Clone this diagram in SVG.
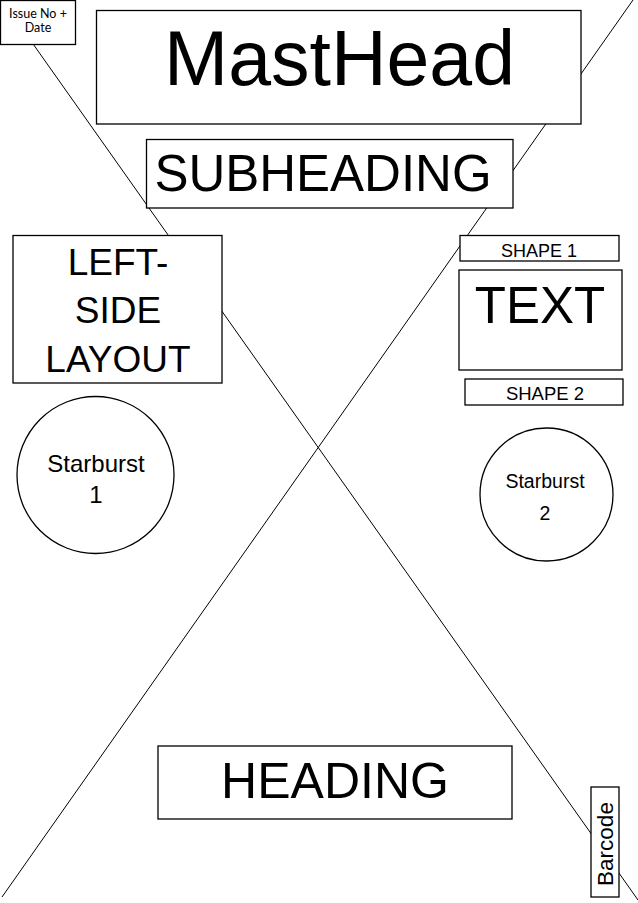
<svg xmlns="http://www.w3.org/2000/svg" width="638" height="903" viewBox="0 0 638 903">
<style>
.box{fill:#fff;stroke:#000;stroke-width:1.3}
.ln{stroke:#000;stroke-width:1;fill:none}
.t{font-family:"Liberation Sans",Arial,sans-serif;fill:#000;text-anchor:middle}
.c{font-family:Lato,"Open Sans",sans-serif;fill:#000;text-anchor:middle;font-size:12.5px}
</style>
<rect width="638" height="903" fill="#fff"/>
<g id="connectors">
<line class="ln" x1="2" y1="0" x2="638" y2="900"/>
<line class="ln" x1="633" y1="0" x2="2" y2="897"/>
</g>
<g id="issue">
<rect class="box" x="0.5" y="0.5" width="75" height="44"/>
<text class="c" x="38" y="18">Issue No +</text>
<text class="c" x="38" y="32">Date</text>
</g>
<g id="masthead">
<rect class="box" x="96.5" y="10.5" width="484.5" height="113.5"/>
<text class="t" x="339.5" y="85" font-size="77">MastHead</text>
</g>
<g id="subheading">
<rect class="box" x="146.5" y="139.5" width="366.5" height="68.5"/>
<text class="t" x="323" y="191" font-size="51">SUBHEADING</text>
</g>
<g id="leftside">
<rect class="box" x="13" y="235.5" width="209" height="147.5"/>
<text class="t" x="118" y="275" font-size="37">LEFT-</text>
<text class="t" x="118" y="323" font-size="37">SIDE</text>
<text class="t" x="118" y="372" font-size="37">LAYOUT</text>
</g>
<g id="starburst1">
<circle class="box" cx="95.5" cy="475" r="78.5"/>
<text class="t" x="96" y="472" font-size="24">Starburst</text>
<text class="t" x="96" y="503" font-size="24">1</text>
</g>
<g id="shape1">
<rect class="box" x="460" y="235.5" width="159" height="25.5"/>
<text class="t" x="539" y="257" font-size="18">SHAPE 1</text>
</g>
<g id="text">
<rect class="box" x="459" y="270" width="163" height="100"/>
<text class="t" x="540" y="323" font-size="51">TEXT</text>
</g>
<g id="shape2">
<rect class="box" x="465" y="379" width="158" height="26"/>
<text class="t" x="545" y="400" font-size="18.5">SHAPE 2</text>
</g>
<g id="starburst2">
<circle class="box" cx="546.5" cy="494.5" r="66.5"/>
<text class="t" x="545" y="488" font-size="19.5">Starburst</text>
<text class="t" x="545" y="520" font-size="19.5">2</text>
</g>
<g id="heading">
<rect class="box" x="158" y="746" width="354" height="73"/>
<text class="t" x="335" y="798" font-size="50">HEADING</text>
</g>
<g id="barcode">
<rect class="box" x="591" y="787" width="28" height="110"/>
<text class="t" x="0" y="0" font-size="22.5" transform="translate(613 844) rotate(-90)">Barcode</text>
</g>
</svg>
